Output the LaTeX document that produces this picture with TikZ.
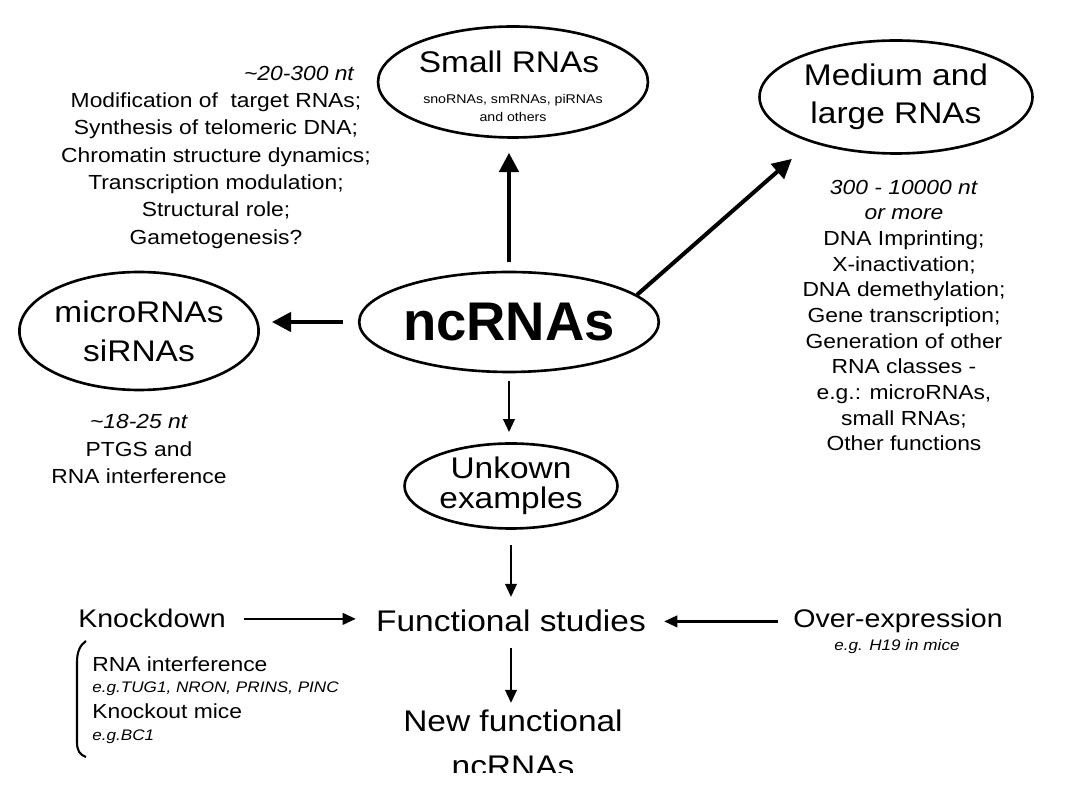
\documentclass[tikz,border=0pt]{standalone}
\usepackage{fontspec}
\setmainfont{Liberation Sans}[FakeStretch=1.12]
\newfontfamily\plainsans{Liberation Sans}
\usetikzlibrary{arrows.meta,shapes.geometric}

\begin{document}
\begin{tikzpicture}[
    x=0.02cm, y=-0.02cm,
    oval/.style={draw, ellipse, line width=1.5pt, inner sep=0pt, align=center},
    lbl/.style={inner sep=0pt, align=center},
    big/.style={lbl, font=\fontsize{17}{21.6}\selectfont},
    mid/.style={lbl, font=\fontsize{14.5}{17}\selectfont},
    body/.style={lbl, font=\fontsize{11.6}{15.6}\selectfont},
    eg/.style={lbl, font=\fontsize{8.7}{10}\selectfont\itshape},
    thickarr/.style={line width=2.3pt, -{Triangle[length=11pt, width=11pt]}},
    thinarr/.style={line width=1.5pt, -{Triangle[length=7.5pt, width=6.5pt]}},
    ]
\useasboundingbox (0,0) rectangle (1080,810);

% the ncRNA classes
\node[oval, minimum width=5.1cm, minimum height=2cm,
      font=\plainsans\fontsize{31}{36}\selectfont\bfseries] (nc) at (509,322) {ncRNAs};
\node[oval, minimum width=5.4cm, minimum height=2.22cm] (small) at (513,82) {};
\node[big] (smalltxt) at (509,62) {Small RNAs};
\node[lbl, font=\fontsize{7.2}{10.2}\selectfont] (smallsub) at (513,108) {snoRNAs, smRNAs, piRNAs\\and others};
\node[oval, minimum width=5.46cm, minimum height=2.26cm,
      font=\fontsize{17}{21.6}\selectfont] (med) at (896,97) {Medium and\\large RNAs};
\node[oval, minimum width=4.16cm, minimum height=2.36cm,
      font=\fontsize{17}{22.2}\selectfont] (micro) at (139,331) {microRNAs\\siRNAs};
\node[oval, minimum width=4.26cm, minimum height=1.7cm,
      font=\fontsize{17}{17}\selectfont] (unk) at (511,486) {Unkown\\examples};

% sizes and functions
\node[body, anchor=east] (smallnt) at (355,73) {\textit{\textasciitilde20-300 nt}};
\node[body] (smallfn) at (216,170.5) {Modification of\ \ target RNAs;\\Synthesis of telomeric DNA;\\Chromatin structure dynamics;\\Transcription modulation;\\Structural role;\\Gametogenesis?};
\node[body, font=\fontsize{11.6}{14.6}\selectfont] (medfn) at (904,315.5) {\textit{300 - 10000 nt}\\\textit{or more}\\DNA Imprinting;\\X-inactivation;\\DNA demethylation;\\Gene transcription;\\Generation of other\\RNA classes -\\e.g.: microRNAs,\\small RNAs;\\Other functions};
\node[body, font=\fontsize{11.6}{15.9}\selectfont] (microfn) at (139,449) {\textit{\textasciitilde18-25 nt}\\PTGS and\\RNA interference};

% functional studies
\node[big, anchor=base] (func) at (511,632) {Functional studies};
\node[mid, anchor=base west] (knock) at (78,628) {Knockdown};
\node[mid, anchor=base west] (over) at (793,628) {Over-expression};
\node[eg, anchor=base] (overeg) at (897,651) {e.g. H19 in mice};
\node[body, anchor=base west] (rnai) at (92,672) {RNA interference};
\node[eg, anchor=base west] (rnaieg) at (92,693) {e.g.TUG1, NRON, PRINS, PINC};
\node[body, anchor=base west] (ko) at (92,719) {Knockout mice};
\node[eg, anchor=base west] (koeg) at (92,741) {e.g.BC1};
\draw[line width=1.2pt] (86,641) .. controls (80,645) and (77,652) .. (77,662)
    -- (77,742) .. controls (77,751) and (80,755) .. (86,757);
\begin{scope}
  \clip (0,0) rectangle (1080,773);
  \node[lbl, anchor=north, font=\fontsize{17}{25.6}\selectfont] (new) at (513,710) {New functional\\ncRNAs};
\end{scope}

% arrows
\draw[thickarr, shorten <=0.18cm, shorten >=0.28cm] (nc.north) -- (nc.north |- small.south);
\draw[thickarr, shorten <=0.3cm, shorten >=0.24cm] (nc.west) -- (nc.west -| micro.east);
\draw[thickarr, shorten >=0.5cm] (nc.12) -- (med.208);
\draw[thinarr, shorten <=0.16cm, shorten >=0.2cm] (nc.south) -- (nc.south |- unk.north);
\draw[thinarr, shorten <=0.3cm, shorten >=0.26cm] (unk.south) -- (unk.south |- func.north);
\draw[thinarr, shorten <=0.3cm, shorten >=0.14cm] (func.south) -- (func.south |- new.north);
\draw[thinarr, shorten <=0.36cm, shorten >=0.4cm] (knock.east) -- (knock.east -| func.west);
\draw[thinarr, shorten <=0.3cm, shorten >=0.36cm] (over.west) -- (over.west -| func.east);
\end{tikzpicture}
\end{document}
